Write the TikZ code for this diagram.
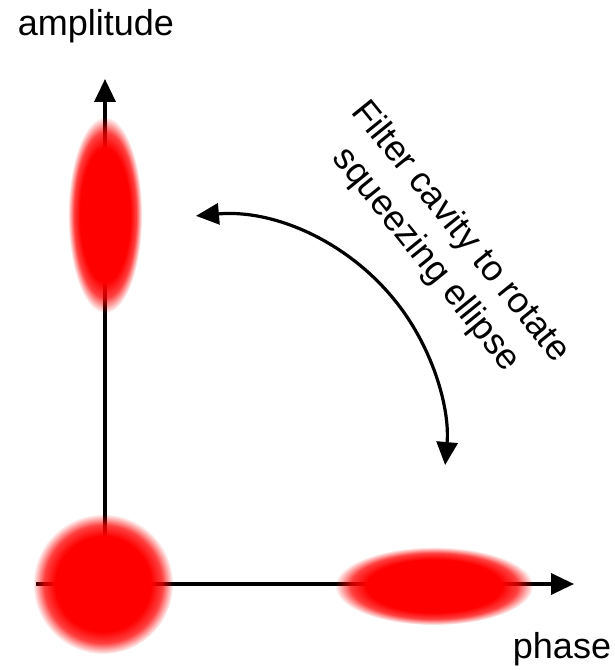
\documentclass[tikz,border=0pt]{standalone}
\usepackage{fontspec}
\setmainfont{Liberation Sans}
\usetikzlibrary{arrows.meta,fadings}

\pgfdeclareradialshading{softblob}{\pgfpointorigin}{color(0bp)=(pgftransparent!0); color(17bp)=(pgftransparent!0); color(21bp)=(pgftransparent!25); color(25bp)=(pgftransparent!100); color(50bp)=(pgftransparent!100)}
\pgfdeclarefading{soft edge}{\pgfuseshading{softblob}}

\begin{document}
\begin{tikzpicture}[x=1pt, y=1pt, >={Triangle[length=23pt,width=21pt]},
    axis/.style={->, line width=3.5pt},
    turn/.style={<->, line width=3.2pt},
    blob/.style={fill=red, path fading=soft edge},
    lbl/.style={font=\fontsize{36}{44}\selectfont, inner sep=0pt}]

\useasboundingbox (0,0) rectangle (615,670);

\coordinate (O) at (105,86);
\coordinate (xmin) at (36,86);
\coordinate (xmax) at (574,86);
\coordinate (ymax) at (105,591);
\coordinate (C) at (216,225);

\draw[axis] (xmin) -- (xmax);
\draw[axis] (O) -- (ymax);

\path[blob] (103,86) circle (70);
\path[blob] (105,455) ellipse (37 and 98);
\path[blob] (434,84) ellipse (99 and 39);

\draw[turn] (C) ++(95:230) arc[start angle=95, end angle=-5, radius=230];

\node[lbl, anchor=base] (amp) at (96,634) {amplitude};
\node[lbl, anchor=base] (ph) at (562,12) {phase};
\node[lbl, rotate=-51, align=center] (rot) at (443,424) {Filter cavity to rotate\\squeezing ellipse};
\end{tikzpicture}
\end{document}
